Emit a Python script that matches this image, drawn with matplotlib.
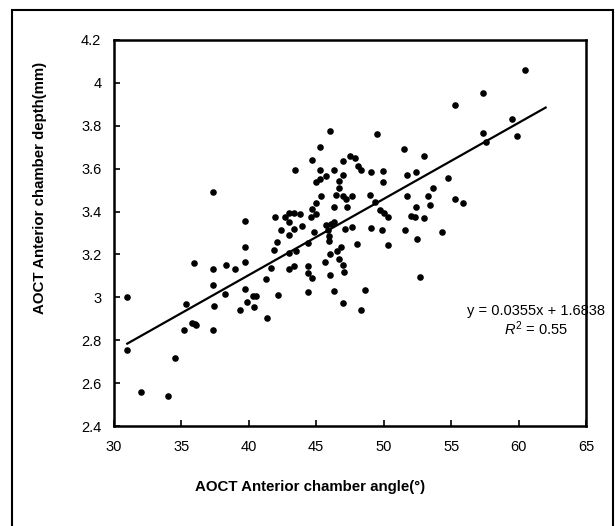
import matplotlib.pyplot as plt
from matplotlib.patches import Rectangle

plt.rcParams['font.family'] = ['Liberation Sans', 'DejaVu Sans']
plt.rcParams['mathtext.fontset'] = 'custom'
plt.rcParams['mathtext.rm'] = 'Liberation Sans'
plt.rcParams['mathtext.it'] = 'Liberation Sans:italic'

# 前房角度 (x) 與前房深度 (y)
angle = [31.0, 31.0, 32.0, 34.0, 34.57, 35.33, 35.2, 35.8, 35.97, 36.03,
         36.1, 37.37, 37.37, 37.37, 37.43, 37.37, 38.3, 38.21, 39.0, 39.38,
         39.73, 39.73, 39.73, 39.73, 39.9, 40.34, 40.57, 40.4, 41.27, 41.33,
         41.62, 41.85, 41.94, 42.06, 42.2, 42.4, 42.67, 42.96, 42.96, 42.96,
         42.96, 42.96, 43.34, 43.34, 43.37, 43.42, 43.48, 43.77, 43.95, 44.36,
         44.36, 44.36, 44.36, 44.59, 44.68, 44.68, 44.68, 44.85, 44.97, 44.97,
         45.0, 45.29, 45.29, 45.29, 45.38, 45.64, 45.72, 45.75, 45.87, 45.93,
         45.93, 45.99, 45.99, 45.99, 46.07, 46.31, 46.31, 46.31, 46.31, 46.45,
         46.54, 46.69, 46.69, 46.69, 46.83, 46.98, 46.98, 46.98, 47.0, 47.07,
         47.0, 47.12, 47.24, 47.3, 47.47, 47.62, 47.62, 47.85, 48.0, 48.08,
         48.32, 48.32, 48.64, 48.96, 49.05, 49.05, 49.34, 49.48, 49.71, 49.89,
         49.98, 49.98, 50.0, 50.3, 50.33, 51.52, 51.6, 51.7, 51.7, 51.99,
         52.34, 52.4, 52.4, 52.45, 52.66, 52.98, 52.98, 53.3, 53.44, 53.67,
         54.32, 54.78, 55.31, 55.31, 55.86, 57.34, 57.34, 57.58, 59.5, 59.91,
         60.46]
depth = [3.0, 2.755, 2.56, 2.54, 2.716, 2.967, 2.85, 2.88, 3.159, 2.875,
         2.869, 3.492, 3.134, 3.056, 2.961, 2.85, 3.153, 3.014, 3.134, 2.941,
         3.356, 3.236, 3.167, 3.039, 2.977, 3.005, 3.005, 2.956, 3.086, 2.903,
         3.137, 3.222, 3.375, 3.258, 3.011, 3.312, 3.375, 3.395, 3.352, 3.289,
         3.209, 3.13, 3.394, 3.32, 3.145, 3.592, 3.214, 3.387, 3.331, 3.252,
         3.144, 3.114, 3.023, 3.375, 3.41, 3.641, 3.092, 3.303, 3.539, 3.441,
         3.387, 3.7, 3.592, 3.552, 3.473, 3.163, 3.337, 3.567, 3.316, 3.286,
         3.263, 3.777, 3.203, 3.106, 3.344, 3.595, 3.419, 3.352, 3.03, 3.478,
         3.217, 3.544, 3.512, 3.18, 3.237, 3.637, 3.569, 3.473, 3.153, 3.12,
         2.972, 3.317, 3.458, 3.419, 3.658, 3.473, 3.327, 3.65, 3.25, 3.614,
         3.594, 2.941, 3.033, 3.478, 3.583, 3.322, 3.444, 3.763, 3.406, 3.316,
         3.589, 3.539, 3.391, 3.375, 3.242, 3.691, 3.312, 3.569, 3.473, 3.381,
         3.375, 3.583, 3.42, 3.27, 3.097, 3.661, 3.372, 3.473, 3.43, 3.512,
         3.305, 3.555, 3.897, 3.459, 3.441, 3.955, 3.767, 3.723, 3.83, 3.753,
         4.062]

# 趨勢線
slope = 0.0355
intercept = 1.6838
r2 = 0.55
line_x = [31, 62]

fig = plt.figure(figsize=(6.15, 5.26), dpi=100)
ax = fig.add_axes([0.185, 0.19, 0.768, 0.734])

ax.scatter(angle, depth, s=14, color="black", zorder=3)
ax.plot(line_x, [slope * v + intercept for v in line_x], color="black", lw=1.6, zorder=2)

ax.text(61.3, 2.89, "y = %.4fx + %.4f\n$R^2$ = %.2f" % (slope, intercept, r2),
        ha="center", va="center", multialignment="center", fontsize=10.5,
        linespacing=1.05, zorder=1)

ax.set_xlim(30, 65)
ax.set_ylim(2.4, 4.2)
ax.set_xticks(range(30, 66, 5))
ax.set_yticks([2.4, 2.6, 2.8, 3.0, 3.2, 3.4, 3.6, 3.8, 4.0, 4.2])
ax.set_yticklabels(["2.4", "2.6", "2.8", "3", "3.2", "3.4", "3.6", "3.8", "4", "4.2"])
ax.tick_params(direction="in", length=4, width=1.2, labelsize=10.5)
ax.tick_params(axis="x", pad=10)
ax.tick_params(axis="y", pad=9)
for sp in ax.spines.values():
    sp.set_linewidth(1.8)
    sp.set_zorder(5)

ax.set_xlabel("AOCT Anterior chamber angle(°)", fontsize=10.8, fontweight="bold")
ax.set_ylabel("AOCT Anterior chamber depth(mm)", fontsize=10.8, fontweight="bold")
ax.xaxis.set_label_coords(0.415, -0.158)
ax.yaxis.set_label_coords(-0.157, 0.617)
ax.xaxis.label.set_va("center")
ax.yaxis.label.set_va("center")

# 外框
fig.patches.append(Rectangle((12 / 615, -0.05), 601 / 615, 1.05 - 10 / 526,
                             transform=fig.transFigure, fill=False, lw=1.5,
                             edgecolor="black"))

fig.savefig("out.png", dpi=100)
